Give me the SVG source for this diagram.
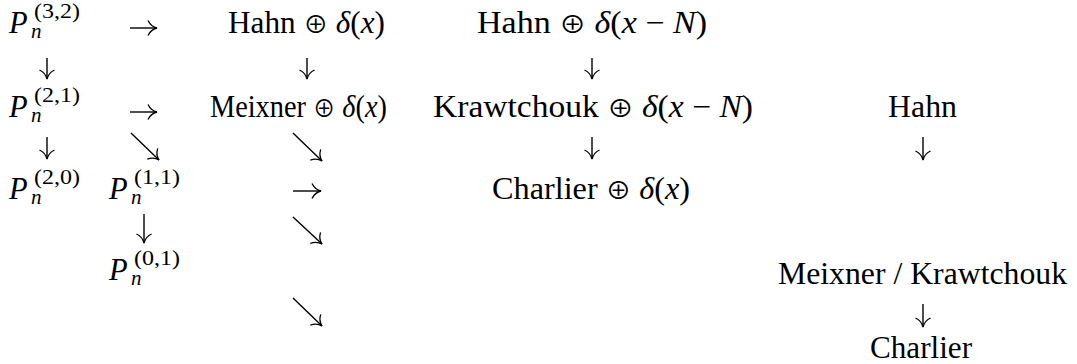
<svg xmlns="http://www.w3.org/2000/svg" width="1077" height="364" viewBox="0 0 1077 364">
<style>
.t{font-family:"Liberation Serif","DejaVu Serif",serif;font-size:30.5px;fill:#000}
.s{font-family:"Liberation Serif","DejaVu Serif",serif;font-size:21px;fill:#000}
.i{font-style:italic}
.o{font-family:"Noto Sans CJK JP","DejaVu Sans",sans-serif;font-size:24px}
.c{fill:none;stroke:#000;stroke-width:1.4}
</style>
<defs>
<marker id="ah" viewBox="-11 -9 13 18" markerWidth="13" markerHeight="18" refX="0" refY="0" orient="auto" markerUnits="userSpaceOnUse">
<path d="M-9,-7.5 Q-6,-1.4 0,0 Q-6,1.4 -9,7.5" fill="none" stroke="#000" stroke-width="1.3"/>
</marker>
</defs>
<rect width="1077" height="364" fill="#fff"/>

<g id="p32"><text class="t i" x="9" y="33">P</text><text class="s" x="34" y="18" textLength="46" lengthAdjust="spacingAndGlyphs">(3,2)</text><text class="s i" x="31" y="38">n</text></g>
<g id="p21"><text class="t i" x="9" y="117">P</text><text class="s" x="34" y="102" textLength="46" lengthAdjust="spacingAndGlyphs">(2,1)</text><text class="s i" x="31" y="122">n</text></g>
<g id="p20"><text class="t i" x="9" y="199">P</text><text class="s" x="34" y="184" textLength="46" lengthAdjust="spacingAndGlyphs">(2,0)</text><text class="s i" x="31" y="204">n</text></g>
<g id="p11"><text class="t i" x="109" y="199">P</text><text class="s" x="134" y="184" textLength="46" lengthAdjust="spacingAndGlyphs">(1,1)</text><text class="s i" x="131" y="204">n</text></g>
<g id="p01"><text class="t i" x="109" y="280">P</text><text class="s" x="134" y="265" textLength="46" lengthAdjust="spacingAndGlyphs">(0,1)</text><text class="s i" x="131" y="285">n</text></g>

<g id="hahn-dx"><text class="t" x="228" y="33" textLength="157" lengthAdjust="spacingAndGlyphs">Hahn <tspan class="o">⊕</tspan> <tspan class="i">δ</tspan>(<tspan class="i">x</tspan>)</text></g>
<g id="meixner-dx"><text class="t" x="210" y="117" textLength="177" lengthAdjust="spacingAndGlyphs">Meixner <tspan class="o">⊕</tspan> <tspan class="i">δ</tspan>(<tspan class="i">x</tspan>)</text></g>
<g id="hahn-dxn"><text class="t" x="477" y="33" textLength="230" lengthAdjust="spacingAndGlyphs">Hahn <tspan class="o">⊕</tspan> <tspan class="i">δ</tspan>(<tspan class="i">x</tspan> − <tspan class="i">N</tspan>)</text></g>
<g id="kraw-dxn"><text class="t" x="433" y="117" textLength="320" lengthAdjust="spacingAndGlyphs">Krawtchouk <tspan class="o">⊕</tspan> <tspan class="i">δ</tspan>(<tspan class="i">x</tspan> − <tspan class="i">N</tspan>)</text></g>
<g id="charlier-dx"><text class="t" x="492" y="199" textLength="198" lengthAdjust="spacingAndGlyphs">Charlier <tspan class="o">⊕</tspan> <tspan class="i">δ</tspan>(<tspan class="i">x</tspan>)</text></g>
<g id="hahn"><text class="t" x="888" y="117" textLength="69" lengthAdjust="spacingAndGlyphs">Hahn</text></g>
<g id="meix-kraw"><text class="t" x="778" y="284" textLength="289" lengthAdjust="spacingAndGlyphs">Meixner / Krawtchouk</text></g>
<g id="charlier"><text class="t" x="870" y="358" textLength="102" lengthAdjust="spacingAndGlyphs">Charlier</text></g>

<g id="connectors">
<path class="c" d="M130,28 H157" marker-end="url(#ah)"/>
<path class="c" d="M130,112 H157" marker-end="url(#ah)"/>
<path class="c" d="M293,191 H321" marker-end="url(#ah)"/>
<path class="c" d="M47,58 V79" marker-end="url(#ah)"/>
<path class="c" d="M47,137 V159" marker-end="url(#ah)"/>
<path class="c" d="M307,58 V79" marker-end="url(#ah)"/>
<path class="c" d="M592,58 V79" marker-end="url(#ah)"/>
<path class="c" d="M592,137 V159" marker-end="url(#ah)"/>
<path class="c" d="M923,137 V160" marker-end="url(#ah)"/>
<path class="c" d="M923,304 V327" marker-end="url(#ah)"/>
<path class="c" d="M144,214 V243" marker-end="url(#ah)"/>
<path class="c" d="M131,133 L159,160" marker-end="url(#ah)"/>
<path class="c" d="M293,133 L322,161" marker-end="url(#ah)"/>
<path class="c" d="M293,217 L322,244" marker-end="url(#ah)"/>
<path class="c" d="M293,298 L322,326" marker-end="url(#ah)"/>
</g>
</svg>
